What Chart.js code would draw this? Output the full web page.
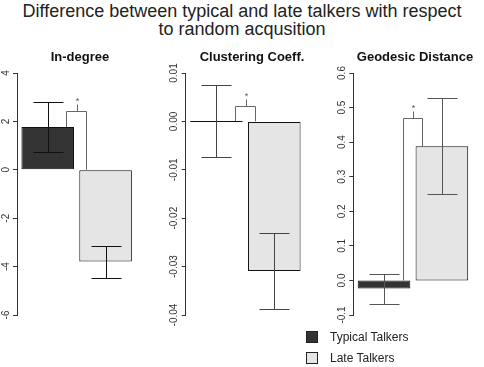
<!DOCTYPE html>
<html>
<head>
<meta charset="utf-8">
<script src="https://cdn.jsdelivr.net/npm/chart.js@4.4.1/dist/chart.umd.min.js"></script>
<style>
  body { margin: 0; background: #fff; font-family: "Liberation Sans", Arial, sans-serif; }
  #wrap { position: relative; width: 484px; height: 367px; overflow: hidden; }
  #wrap canvas { position: absolute; top: 0; }
  .title { position: absolute; left: 0; top: 2px; width: 484px; text-align: center; font-size: 18px; line-height: 18px; color: #222; }
  .ptitle { position: absolute; top: 50px; font-size: 13px; line-height: 13px; font-weight: bold; color: #111; white-space: nowrap; transform: translateX(-50%); }
  .leg { position: absolute; left: 306px; font-size: 12px; line-height: 12px; color: #222; white-space: nowrap; }
  .leg span { position: absolute; left: 0; width: 12px; height: 12px; box-sizing: border-box; border: 1px solid #222; }
  .leg b { position: absolute; left: 24px; font-weight: normal; }
</style>
</head>
<body>
<div id="wrap">
  <div class="title">Difference between typical and late talkers with respect<br>to random acqusition</div>
</div>
<script>
// values
const seriesNames = ['Typical Talkers', 'Late Talkers'];
const seriesColors = ['#333333', '#e5e5e5'];
const panelTitles = ['In-degree', 'Clustering Coeff.', 'Geodesic Distance'];
const axisMin = [-6, -0.04, -0.1];
const axisMax = [4, 0.01, 0.6];
const axisStep = [2, 0.01, 0.1];
const tickDigits = [0, 2, 1];
const typicalMeans = [1.77, 0, -0.023];
const typicalLow = [0.73, -0.0074, -0.067];
const typicalHigh = [2.80, 0.0075, 0.020];
const lateMeans = [-3.79, -0.0309, 0.388];
const lateLow = [-4.46, -0.0388, 0.249];
const lateHigh = [-3.15, -0.0230, 0.528];
const sigHeights = [2.45, 0.0032, 0.47];
const sigLabels = ['*', '*', '*'];

// where each panel sits on the page
const panelBox = [
  { left: 0, width: 160, axisX: 17, titleX: 80, errColor: '#111' },
  { left: 160, width: 160, axisX: 185.7, titleX: 252, errColor: '#444' },
  { left: 320, width: 164, axisX: 353.3, titleX: 415, errColor: '#555' }
];
const plotWidth = 119.3;
const plotTop = 73;
const plotBottom = 315;

// error bars with caps, drawn over the bars
const errorBars = {
  id: 'errorBars',
  afterDatasetsDraw(chart, args, opts) {
    const ctx = chart.ctx, y = chart.scales.y;
    ctx.save();
    ctx.strokeStyle = opts.color;
    ctx.lineWidth = 1;
    chart.data.datasets.forEach((ds, di) => {
      const bar = chart.getDatasetMeta(di).data[0];
      const x = Math.round(bar.x) + 0.5;
      const lo = Math.round(y.getPixelForValue(ds.errLow)) + 0.5;
      const hi = Math.round(y.getPixelForValue(ds.errHigh)) + 0.5;
      ctx.beginPath();
      ctx.moveTo(x, lo); ctx.lineTo(x, hi);
      ctx.moveTo(x - opts.cap, lo); ctx.lineTo(x + opts.cap, lo);
      ctx.moveTo(x - opts.cap, hi); ctx.lineTo(x + opts.cap, hi);
      ctx.stroke();
    });
    ctx.restore();
  }
};

// significance bracket between the two bars
const sigBracket = {
  id: 'sigBracket',
  beforeDatasetsDraw(chart, args, opts) {
    const ctx = chart.ctx, y = chart.scales.y;
    const a = chart.getDatasetMeta(0).data[0];
    const b = chart.getDatasetMeta(1).data[0];
    const v0 = chart.data.datasets[0].data[0];
    const v1 = chart.data.datasets[1].data[0];
    const xl = Math.round(a.x + opts.insetLeft) + 0.5;
    const xr = Math.round(b.x - opts.insetRight) + 0.5;
    const yt = Math.round(y.getPixelForValue(opts.height)) + 0.5;
    const yl = y.getPixelForValue(Math.max(v0, 0));
    const yr = y.getPixelForValue(Math.max(v1, 0));
    const xm = Math.round((xl + xr) / 2) + 0.5;
    ctx.save();
    ctx.strokeStyle = '#666';
    ctx.lineWidth = 1;
    ctx.beginPath();
    ctx.moveTo(xl, yl); ctx.lineTo(xl, yt); ctx.lineTo(xr, yt); ctx.lineTo(xr, yr);
    ctx.moveTo(xm, yt); ctx.lineTo(xm, yt - opts.tick);
    ctx.stroke();
    ctx.fillStyle = '#555';
    ctx.font = '9px "Liberation Sans", Arial, sans-serif';
    ctx.textAlign = 'center';
    ctx.textBaseline = 'alphabetic';
    ctx.fillText(opts.label, xm, yt - opts.tick - 1);
    ctx.restore();
  }
};

// R style tick labels, turned to read upwards
const rotatedTicks = {
  id: 'rotatedTicks',
  afterDraw(chart, args, opts) {
    const s = chart.scales.y, ctx = chart.ctx;
    ctx.save();
    ctx.font = '10px "Liberation Sans", Arial, sans-serif';
    ctx.fillStyle = '#333';
    ctx.textAlign = 'center';
    ctx.textBaseline = 'middle';
    s.ticks.forEach((t, i) => {
      const v = Math.abs(t.value) < 1e-9 ? 0 : t.value;
      ctx.save();
      ctx.translate(s.right - opts.offset, s.getPixelForTick(i));
      ctx.rotate(-Math.PI / 2);
      ctx.fillText(v.toFixed(opts.digits), 0, 0);
      ctx.restore();
    });
    ctx.restore();
  }
};

const wrap = document.getElementById('wrap');

panelTitles.forEach((title, i) => {
  const box = panelBox[i];
  const canvas = document.createElement('canvas');
  canvas.width = box.width;
  canvas.height = 367;
  canvas.style.left = box.left + 'px';
  wrap.appendChild(canvas);

  const t = document.createElement('div');
  t.className = 'ptitle';
  t.style.left = box.titleX + 'px';
  t.textContent = title;
  wrap.appendChild(t);

  const means = [typicalMeans[i], lateMeans[i]];
  const lows = [typicalLow[i], lateLow[i]];
  const highs = [typicalHigh[i], lateHigh[i]];

  new Chart(canvas.getContext('2d'), {
    type: 'bar',
    data: {
      labels: [title],
      datasets: seriesNames.map((name, k) => ({
        label: name,
        data: [means[k]],
        errLow: lows[k],
        errHigh: highs[k],
        backgroundColor: seriesColors[k],
        borderColor: '#111',
        borderWidth: 1,
        borderSkipped: false,
        minBarLength: 1,
        categoryPercentage: 0.97,
        barPercentage: 0.909
      }))
    },
    options: {
      responsive: false,
      animation: false,
      devicePixelRatio: 1,
      layout: {
        padding: {
          left: 0,
          top: plotTop,
          bottom: 367 - plotBottom,
          right: box.left + box.width - (box.axisX + plotWidth)
        }
      },
      scales: {
        x: { display: false },
        y: {
          min: axisMin[i],
          max: axisMax[i],
          ticks: { stepSize: axisStep[i], display: false },
          grid: { drawOnChartArea: false, drawTicks: true, tickLength: 4, color: '#333' },
          border: { display: true, color: '#333', width: 1 },
          afterFit: s => { s.width = box.axisX - box.left; }
        }
      },
      plugins: {
        legend: { display: false },
        tooltip: { enabled: false },
        errorBars: { color: box.errColor, cap: 15 },
        sigBracket: { height: sigHeights[i], label: sigLabels[i], insetLeft: 18.5, insetRight: 19.5, tick: 7 },
        rotatedTicks: { offset: 11, digits: tickDigits[i] }
      }
    },
    plugins: [sigBracket, errorBars, rotatedTicks]
  });
});

// legend under the last panel
seriesNames.forEach((name, k) => {
  const row = document.createElement('div');
  row.className = 'leg';
  row.style.top = (331 + k * 21) + 'px';
  row.innerHTML = '<span style="background:' + seriesColors[k] + '"></span><b>' + name + '</b>';
  wrap.appendChild(row);
});
</script>
</body>
</html>
